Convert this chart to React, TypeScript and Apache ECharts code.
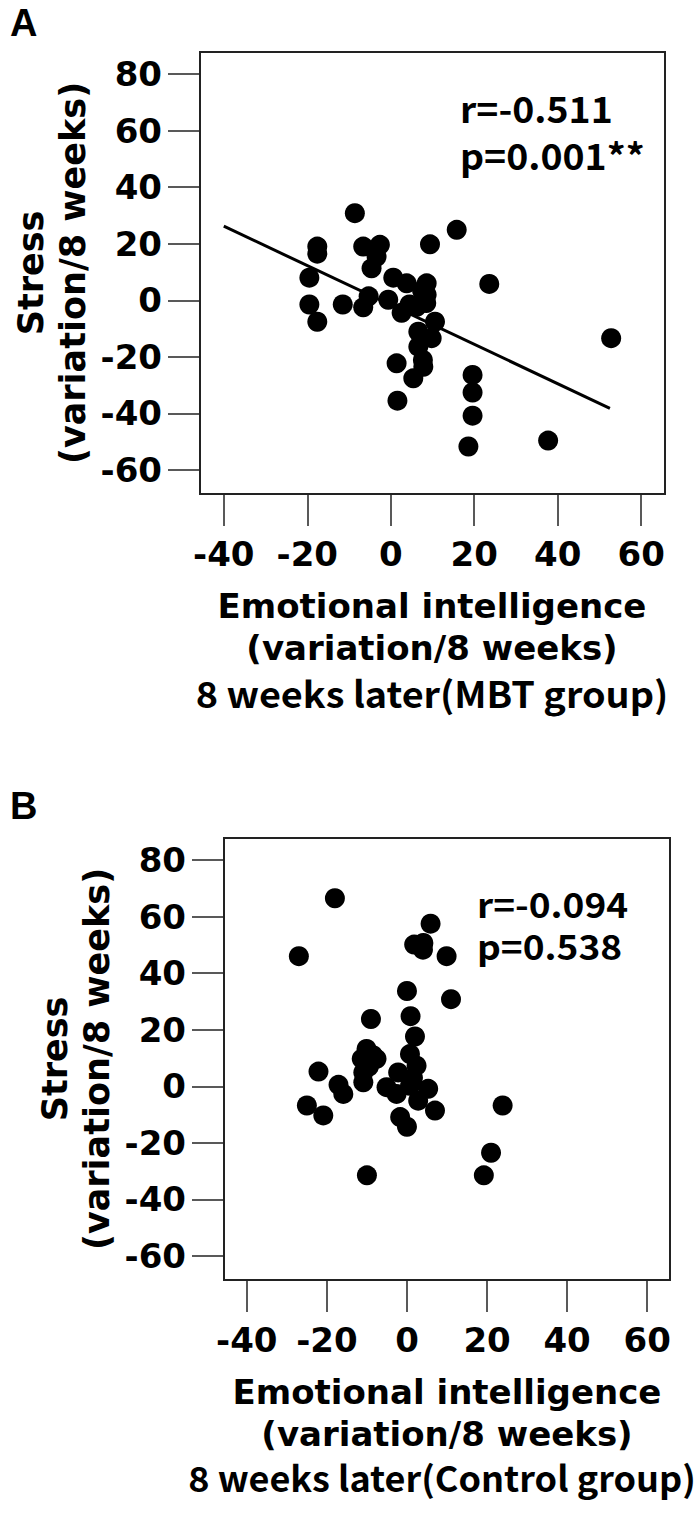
import React, { useEffect, useRef } from "react";
import * as echarts from "echarts";

// Tick labels
const xTicks = [-40, -20, 0, 20, 40, 60];
const yTicks = [-60, -40, -20, 0, 20, 40, 60, 80];

// Panel A (MBT group): emotional intelligence change vs stress change
const mbtEI = [
  -8.6, -17.6, -17.6, -19.5, -19.5, -17.6, -11.5, -6.6, -2.6, -3.4, -4.6, -5.3, -6.6, -0.6,
  0.6, 3.8, 8.6, 8.6, 9.4, 15.8, 23.6, 2.6, 6.2, 8.5, 10.6, 6.6, 9.8, 6.6, 7.7, 7.8, 5.4,
  1.4, 1.6, 19.6, 19.6, 19.6, 18.6, 37.7, 52.8, 7.5, 4.5,
];
const mbtStress = [
  30.8, 19, 16.5, 8, -1.5, -7.6, -1.5, 19, 19.6, 15.4, 11.3, 1.4, -2.5, 0.2,
  8, 6, 6, 2, 19.8, 24.9, 5.8, -4.4, -2.3, -1, -7.6, -11.1, -13.4, -16.4, -21.1, -23.5, -27.6,
  -22.3, -35.5, -26.4, -32.6, -40.8, -51.7, -49.6, -13.4, 3.5, -1.5,
];
// Fitted regression line for panel A (end points)
const mbtFitX = [-40, 52.5];
const mbtFitY = [26.2, -38.2];

// Panel B (Control group)
const ctrlEI = [
  -27, -18, 5.9, 1.8, 4.1, 4.0, 9.9, 0, 11, -9, 0.9, 2.0, -10.1, 0.75, -11.3, -7.6, 2.4,
  -10.9, -10.9, -2.2, -22.1, -17.1, -15.9, -5.1, -2.6, 0.75, 2.8, 5.3, -25, -20.9, 7, 23.9,
  -1.7, 0, -10, 19.2, 21, -9.5, -8.5, 1.5,
];
const ctrlStress = [
  46, 66.5, 57.5, 50.1, 50.7, 48.3, 46, 33.7, 30.8, 23.8, 24.8, 17.6, 13.2, 11.4, 9.7, 9.7, 7.3,
  4.9, 1.4, 4.9, 5.2, 0.5, -2.7, -0.3, -2.7, 0.2, -5.1, -0.9, -6.8, -10.3, -8.6, -6.8,
  -10.9, -14.3, -31.5, -31.5, -23.5, 7, 11, 3,
];

const statsA = ["r=-0.511", "p=0.001**"];
const statsB = ["r=-0.094", "p=0.538"];
const xTitle = ["Emotional intelligence", "(variation/8 weeks)"];
const groupA = "8 weeks later(MBT group)";
const groupB = "8 weeks later(Control group)";
const yTitle = ["Stress", "(variation/8 weeks)"];

const BOLD = "DejaVu Sans";
const KFONT = "Noto Sans CJK KR";

function mkX(i: number) {
  return {
    type: "value",
    gridIndex: i,
    min: -45.7,
    max: 65.7,
    axisLine: { show: false, onZero: false },
    splitLine: { show: false },
    axisTick: {
      show: true,
      length: 32,
      customValues: xTicks,
      lineStyle: { color: "#222", width: 1.5 },
    },
    axisLabel: {
      customValues: xTicks,
      margin: 43,
      fontFamily: BOLD,
      fontWeight: "bold",
      fontSize: 34,
      color: "#000",
    },
  };
}

function mkY(i: number) {
  return {
    type: "value",
    gridIndex: i,
    min: -68.5,
    max: 87.8,
    axisLine: { show: false, onZero: false },
    splitLine: { show: false },
    axisTick: {
      show: true,
      length: 32,
      customValues: yTicks,
      lineStyle: { color: "#222", width: 1.5 },
    },
    axisLabel: {
      customValues: yTicks,
      margin: 38,
      fontFamily: BOLD,
      fontWeight: "bold",
      fontSize: 34,
      color: "#000",
    },
  };
}

function txt(
  text: string,
  x: number,
  y: number,
  size: number,
  family: string,
  align: string,
  opts: { lineHeight?: number; rotation?: number; scaleX?: number } = {}
) {
  return {
    type: "text",
    x,
    y,
    rotation: opts.rotation || 0,
    scaleX: opts.scaleX || 1,
    style: {
      text,
      fill: "#000",
      fontSize: size,
      lineHeight: opts.lineHeight || size,
      fontWeight: "bold",
      fontFamily: family,
      align,
      verticalAlign: "middle",
    },
  };
}

export default function App() {
  const ref = useRef<HTMLDivElement>(null);
  useEffect(() => {
    document.body.style.margin = "0";
    const chart = echarts.init(ref.current!, null, { renderer: "svg" });
    const gridStyle = { show: true, borderColor: "#222", borderWidth: 2, backgroundColor: "#fff" };
    const option = {
      animation: false,
      backgroundColor: "#fff",
      grid: [
        { left: 200, top: 52, width: 465, height: 442, ...gridStyle },
        { left: 224, top: 838, width: 446, height: 442, ...gridStyle },
      ],
      xAxis: [mkX(0), mkX(1)],
      yAxis: [mkY(0), mkY(1)],
      series: [
        {
          type: "line",
          xAxisIndex: 0,
          yAxisIndex: 0,
          data: mbtFitX.map((x, i) => [x, mbtFitY[i]]),
          symbol: "none",
          lineStyle: { color: "#000", width: 3 },
          z: 2,
        },
        {
          type: "scatter",
          xAxisIndex: 0,
          yAxisIndex: 0,
          data: mbtEI.map((x, i) => [x, mbtStress[i]]),
          symbolSize: 20,
          itemStyle: { color: "#000", opacity: 1 },
          z: 3,
        },
        {
          type: "scatter",
          xAxisIndex: 1,
          yAxisIndex: 1,
          data: ctrlEI.map((x, i) => [x, ctrlStress[i]]),
          symbolSize: 20,
          itemStyle: { color: "#000", opacity: 1 },
          z: 3,
        },
      ],
      graphic: [
        txt("A", 10, 23, 38, "Liberation Sans", "left"),
        txt("B", 10, 806, 38, "Liberation Sans", "left"),
        // panel A texts
        txt(yTitle.join("\n"), 52, 273, 35, BOLD, "center", { lineHeight: 42, rotation: Math.PI / 2 }),
        txt(xTitle[0], 432, 606, 34, BOLD, "center"),
        txt(xTitle[1], 432, 648, 34, BOLD, "center"),
        txt(groupA, 432, 692, 36, KFONT, "center", { scaleX: 1.05 }),
        txt(statsA[0], 460, 107, 36, KFONT, "left", { scaleX: 1.04 }),
        txt(statsA[1], 460, 154, 36, KFONT, "left", { scaleX: 1.04 }),
        // panel B texts
        txt(yTitle.join("\n"), 76, 1059, 35, BOLD, "center", { lineHeight: 42, rotation: Math.PI / 2 }),
        txt(xTitle[0], 447, 1392, 34, BOLD, "center"),
        txt(xTitle[1], 447, 1434, 34, BOLD, "center"),
        txt(groupB, 442, 1477, 35, KFONT, "center", { scaleX: 1.03 }),
        txt(statsB[0], 477, 903, 34, KFONT, "left", { scaleX: 1.09 }),
        txt(statsB[1], 477, 945, 34, KFONT, "left", { scaleX: 1.09 }),
      ],
    };
    chart.setOption(option as any);
    return () => chart.dispose();
  }, []);
  return <div ref={ref} style={{ width: 700, height: 1515 }} />;
}
